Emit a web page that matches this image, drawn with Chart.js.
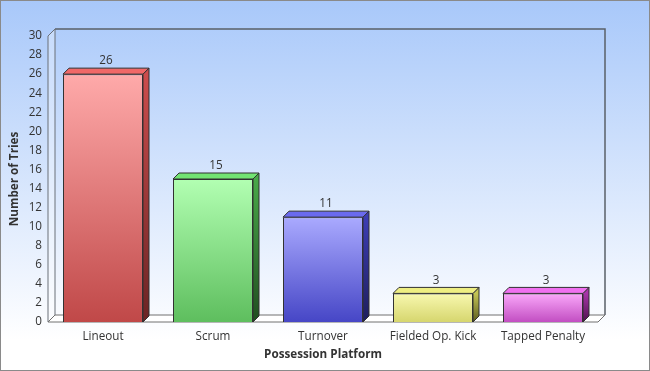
<!DOCTYPE html>
<html>
<head>
<meta charset="utf-8">
<script src="https://cdn.jsdelivr.net/npm/chart.js@4.4.1/dist/chart.umd.min.js"></script>
<style>
    body { margin: 0; }
</style>
</head>
<body>
<canvas id="chartTries" width="650" height="371"></canvas>
<script>
const categorias = ['Lineout', 'Scrum', 'Turnover', 'Fielded Op. Kick', 'Tapped Penalty'];
const tentativas = [26, 15, 11, 3, 3];
const eixoY = { min: 0, max: 30, passo: 2 };

// cores: frente (topo -> base), face de cima, lateral (topo -> base)
const coresFrente = [['#ffaaaa', '#c04848'], ['#b2ffb2', '#5ebe5e'], ['#aaaaff', '#4646c6'], ['#f8f8b0', '#d6d66e'], ['#faa8fa', '#c24ec2']];
const coresTopo = ['#f06868', '#72e472', '#6a6aee', '#eeee82', '#f070f0'];
const coresLado = [['#cc4c4c', '#6a2424'], ['#48a848', '#204e20'], ['#3c3cb4', '#1e1e5c'], ['#c4c454', '#5c5c1e'], ['#a834a8', '#4e124e']];

const prof = 7;      // profundidade da caixa
const profBarra = 6; // profundidade das barras
const tamFonte = 11.7;

const fundo3d = {
    id: 'fundo3d',
    beforeDraw(chart) {
        const ctx = chart.ctx;
        const { left, right, top, bottom } = chart.chartArea;
        ctx.save();
        const g = ctx.createLinearGradient(0, 0, 0, 340);
        g.addColorStop(0, '#a8c8fa');
        g.addColorStop(1, '#ffffff');
        ctx.fillStyle = g;
        ctx.fillRect(0, 0, chart.width, chart.height);
        ctx.strokeStyle = '#8a8a8a';
        ctx.lineWidth = 1;
        ctx.strokeRect(0.5, 0.5, chart.width - 1, chart.height - 1);

        // parede do fundo
        ctx.strokeStyle = '#5a6068';
        ctx.lineWidth = 1.5;
        ctx.beginPath();
        ctx.moveTo(left + prof, top - prof);
        ctx.lineTo(right + prof, top - prof);
        ctx.lineTo(right + prof, bottom - prof);
        ctx.stroke();

        // parede esquerda
        ctx.fillStyle = 'rgba(255,255,255,0.3)';
        ctx.strokeStyle = '#6a7078';
        ctx.lineWidth = 1;
        ctx.beginPath();
        ctx.moveTo(left, bottom);
        ctx.lineTo(left, top);
        ctx.lineTo(left + prof, top - prof);
        ctx.lineTo(left + prof, bottom - prof);
        ctx.closePath();
        ctx.fill();
        ctx.stroke();

        // chao
        ctx.fillStyle = '#ffffff';
        ctx.strokeStyle = '#707070';
        ctx.beginPath();
        ctx.moveTo(left, bottom);
        ctx.lineTo(right, bottom);
        ctx.lineTo(right + prof, bottom - prof);
        ctx.lineTo(left + prof, bottom - prof);
        ctx.closePath();
        ctx.fill();
        ctx.stroke();
        ctx.restore();
    },
    afterDatasetsDraw(chart) {
        const ctx = chart.ctx;
        const meta = chart.getDatasetMeta(0);
        ctx.save();
        ctx.strokeStyle = '#303030';
        ctx.lineWidth = 1;
        meta.data.forEach((barra, i) => {
            const x1 = barra.x - barra.width / 2;
            const x2 = barra.x + barra.width / 2;
            const y1 = barra.y;
            const y2 = barra.base;
            const d = profBarra;

            // lateral
            const gl = ctx.createLinearGradient(0, y1, 0, y2);
            gl.addColorStop(0, coresLado[i][0]);
            gl.addColorStop(1, coresLado[i][1]);
            ctx.fillStyle = gl;
            ctx.beginPath();
            ctx.moveTo(x2, y1);
            ctx.lineTo(x2 + d, y1 - d);
            ctx.lineTo(x2 + d, y2 - d);
            ctx.lineTo(x2, y2);
            ctx.closePath();
            ctx.fill();
            ctx.stroke();

            // topo
            ctx.fillStyle = coresTopo[i];
            ctx.beginPath();
            ctx.moveTo(x1, y1);
            ctx.lineTo(x1 + d, y1 - d);
            ctx.lineTo(x2 + d, y1 - d);
            ctx.lineTo(x2, y1);
            ctx.closePath();
            ctx.fill();
            ctx.stroke();

            // valor
            ctx.fillStyle = '#333333';
            ctx.font = tamFonte + 'px "Open Sans"';
            ctx.textAlign = 'center';
            ctx.textBaseline = 'middle';
            ctx.fillText(String(tentativas[i]), barra.x + d / 2, y1 - d - 7);
        });
        ctx.restore();
    }
};

function corFrente(context) {
    const chart = context.chart;
    const ca = chart.chartArea;
    const i = context.dataIndex;
    if (!ca) return coresFrente[i][0];
    const yTopo = chart.scales.y.getPixelForValue(context.raw);
    const g = chart.ctx.createLinearGradient(0, yTopo, 0, ca.bottom);
    g.addColorStop(0, coresFrente[i][0]);
    g.addColorStop(1, coresFrente[i][1]);
    return g;
}

new Chart(document.getElementById('chartTries').getContext('2d'), {
    type: 'bar',
    data: {
        labels: categorias,
        datasets: [{
            label: 'Number of Tries',
            data: tentativas,
            backgroundColor: corFrente,
            borderColor: '#303030',
            borderWidth: 1,
            categoryPercentage: 1,
            barPercentage: 0.727
        }]
    },
    options: {
        responsive: false,
        animation: false,
        layout: { padding: { top: 36, right: 52, bottom: 0, left: 0 } },
        plugins: {
            legend: { display: false },
            tooltip: { enabled: false }
        },
        scales: {
            x: {
                grid: { display: false, drawTicks: false },
                border: { display: false },
                ticks: { color: '#333333', font: { family: 'Open Sans', size: tamFonte }, padding: 8, maxRotation: 0 },
                title: { display: true, text: 'Possession Platform', color: '#333333', font: { family: 'Open Sans', size: tamFonte, weight: 'bold' }, padding: { top: 0, bottom: 9 } },
                afterFit: s => { s.height = 49; }
            },
            y: {
                min: eixoY.min,
                max: eixoY.max,
                grid: { display: false, drawTicks: false },
                border: { display: false },
                ticks: { stepSize: eixoY.passo, color: '#333333', font: { family: 'Open Sans', size: tamFonte }, padding: 6 },
                title: { display: true, text: 'Number of Tries', color: '#333333', font: { family: 'Open Sans', size: tamFonte, weight: 'bold' }, padding: { top: 8, bottom: 0 } },
                afterFit: s => { s.width = 48; }
            }
        }
    },
    plugins: [fundo3d]
});
</script>
</body>
</html>
